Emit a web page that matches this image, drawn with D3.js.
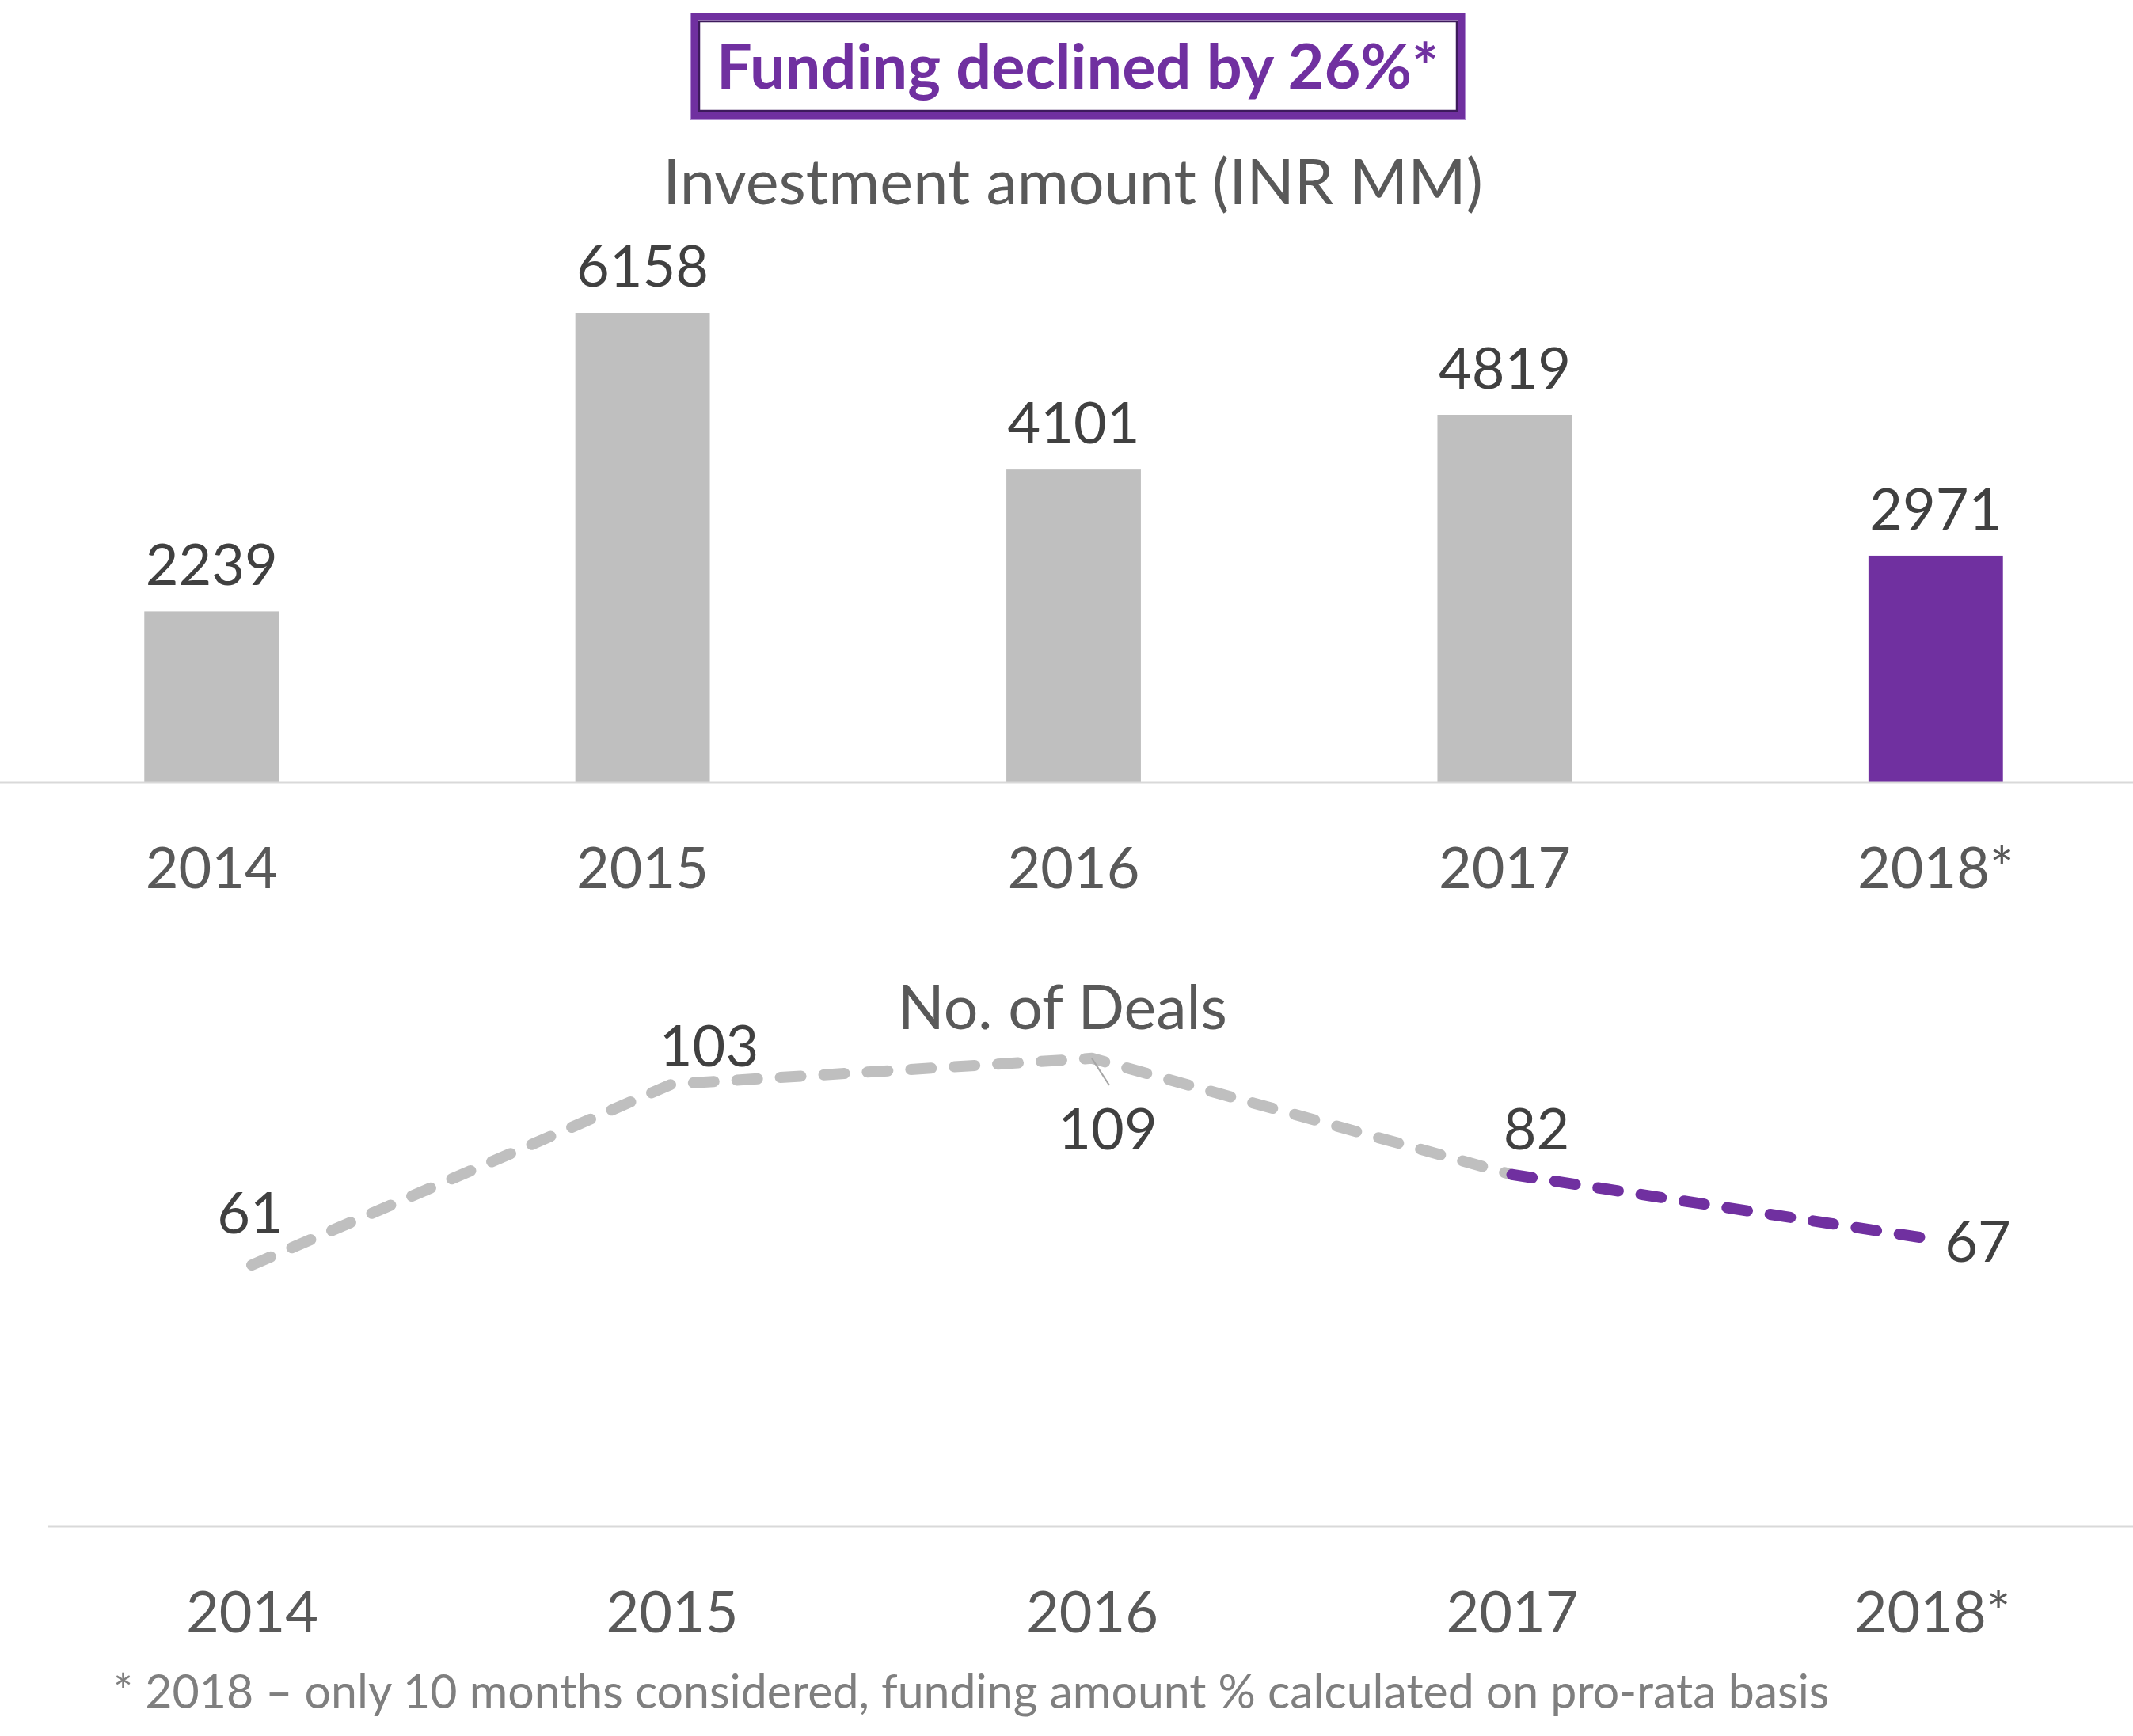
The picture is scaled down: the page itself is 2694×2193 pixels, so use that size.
<!DOCTYPE html>
<html><head><meta charset="utf-8">
<script src="https://cdn.jsdelivr.net/npm/d3@7"></script>
<style>body{margin:0;background:#fff} svg{display:block;font-family:Lato,'Open Sans',sans-serif}</style>
</head><body><svg id="c" width="2694" height="2193"></svg>
<script>
// ---- data ----
const years = ["2014", "2015", "2016", "2017", "2018*"];
const investment = [2239, 6158, 4101, 4819, 2971];
const deals = [61, 103, 109, 82, 67];
const titleText = "Funding declined by 26%*";
const barTitle = "Investment amount (INR MM)";
const lineTitle = "No. of Deals";
const footnote = "* 2018 \u2013 only 10 months considered, funding amount % calculated on pro-rata basis";

// ---- layout / style ----
const W = 2694, H = 2193;
const purple = "#7030A0", gray = "#BFBFBF", axisGray = "#D9D9D9";
const valColor = "#404040", catColor = "#595959";
const svg = d3.select("#c");
svg.append("rect").attr("width", W).attr("height", H).attr("fill", "#fff");

function fitWidth(t, w) {
  const fs = parseFloat(t.attr("font-size"));
  const len = t.node().getComputedTextLength();
  t.attr("font-size", fs * w / len);
}

// Title box
const box = svg.append("g");
box.append("rect").attr("x", 877).attr("y", 21).attr("width", 969).attr("height", 125)
  .attr("fill", "#fff").attr("stroke", purple).attr("stroke-width", 9);
box.append("rect").attr("x", 883).attr("y", 27).attr("width", 957).attr("height", 113)
  .attr("fill", "none").attr("stroke", "#3d1a5c").attr("stroke-width", 2.5);
box.append("rect").attr("x", 872.5).attr("y", 16.5).attr("width", 978).attr("height", 134)
  .attr("fill", "none").attr("stroke", "#b08cd0").attr("stroke-width", 1);
const tt = box.append("text").attr("x", 1361).attr("y", 112).attr("text-anchor", "middle")
  .attr("font-weight", 700).attr("font-size", 80).attr("fill", purple).text(titleText);
fitWidth(tt, 912);

// ---- Bar chart ----
const xb = d3.scaleBand().domain(years).range([-5, 2717]).paddingInner(0.688).paddingOuter(0.344);
const yb = d3.scaleLinear().domain([0, 7000]).range([988, 314]);
const bars = years.map((y, i) => ({ y, v: investment[i], last: i === years.length - 1 }));

const st = svg.append("text").attr("x", 1355).attr("y", 258).attr("text-anchor", "middle")
  .attr("font-size", 72).attr("fill", catColor).text(barTitle);
fitWidth(st, 1036);

svg.append("g").selectAll("rect").data(bars).join("rect")
  .attr("x", d => xb(d.y)).attr("width", xb.bandwidth())
  .attr("y", d => yb(d.v)).attr("height", d => yb(0) - yb(d.v))
  .attr("fill", d => d.last ? purple : gray);

svg.append("g").selectAll("text").data(bars).join("text")
  .attr("x", d => xb(d.y) + xb.bandwidth() / 2).attr("y", d => yb(d.v) - 33)
  .attr("text-anchor", "middle").attr("font-size", 72).attr("fill", valColor)
  .text(d => d.v);

const axB = svg.append("g").attr("transform", `translate(0,${yb(0)})`)
  .call(d3.axisBottom(xb).tickSize(0));
axB.select(".domain").remove();
axB.selectAll("text").attr("y", 134).attr("dy", 0).attr("font-size", 72)
  .attr("font-family", "Lato,'Open Sans',sans-serif").attr("fill", catColor);
svg.append("line").attr("x1", 0).attr("x2", W).attr("y1", yb(0) + 0.5).attr("y2", yb(0) + 0.5)
  .attr("stroke", axisGray).attr("stroke-width", 2);

// ---- Line chart ----
const xl = d3.scalePoint().domain(years).range([318, 2440]);
const yl = d3.scaleLinear().domain([0, 120]).range([1930, 1277]);
const pts = years.map((y, i) => ({ y, v: deals[i] }));

const lt = svg.append("text").attr("x", 1342).attr("y", 1300).attr("text-anchor", "middle")
  .attr("font-size", 72).attr("fill", catColor).text(lineTitle);
fitWidth(lt, 416);

svg.append("line").attr("x1", 60).attr("x2", W).attr("y1", 1928.5).attr("y2", 1928.5)
  .attr("stroke", axisGray).attr("stroke-width", 2);

const line = d3.line().x(d => xl(d.y)).y(d => yl(d.v));
svg.append("path").datum(pts.slice(0, 4)).attr("d", line)
  .attr("fill", "none").attr("stroke", gray).attr("stroke-width", 14)
  .attr("stroke-linecap", "round").attr("stroke-linejoin", "round")
  .attr("stroke-dasharray", "26 29");
svg.append("path").datum(pts.slice(3)).attr("d", line)
  .attr("fill", "none").attr("stroke", purple).attr("stroke-width", 14)
  .attr("stroke-linecap", "round").attr("stroke-linejoin", "round")
  .attr("stroke-dasharray", "26 29");

// label offsets (layout)
const off = [[-2, -40], [47, -23], [20, 115], [31, -32], [58, 29]];
// leader line for 109
const p2 = pts[2];
svg.append("line").attr("x1", xl(p2.y)).attr("y1", yl(p2.v))
  .attr("x2", xl(p2.y) + 22).attr("y2", yl(p2.v) + 34)
  .attr("stroke", "#A6A6A6").attr("stroke-width", 2);

svg.append("g").selectAll("text").data(pts).join("text")
  .attr("x", (d, i) => xl(d.y) + off[i][0]).attr("y", (d, i) => yl(d.v) + off[i][1])
  .attr("text-anchor", "middle").attr("font-size", 72).attr("fill", valColor)
  .text(d => d.v);

const axL = svg.append("g").attr("transform", "translate(0,1928)")
  .call(d3.axisBottom(xl).tickSize(0));
axL.select(".domain").remove();
axL.selectAll("text").attr("y", 134).attr("dy", 0).attr("font-size", 72)
  .attr("font-family", "Lato,'Open Sans',sans-serif").attr("fill", catColor);

const fn = svg.append("text").attr("x", 143).attr("y", 2158)
  .attr("font-size", 52).attr("fill", "#7F7F7F").text(footnote);
fitWidth(fn, 2168);
</script>
</body></html>
